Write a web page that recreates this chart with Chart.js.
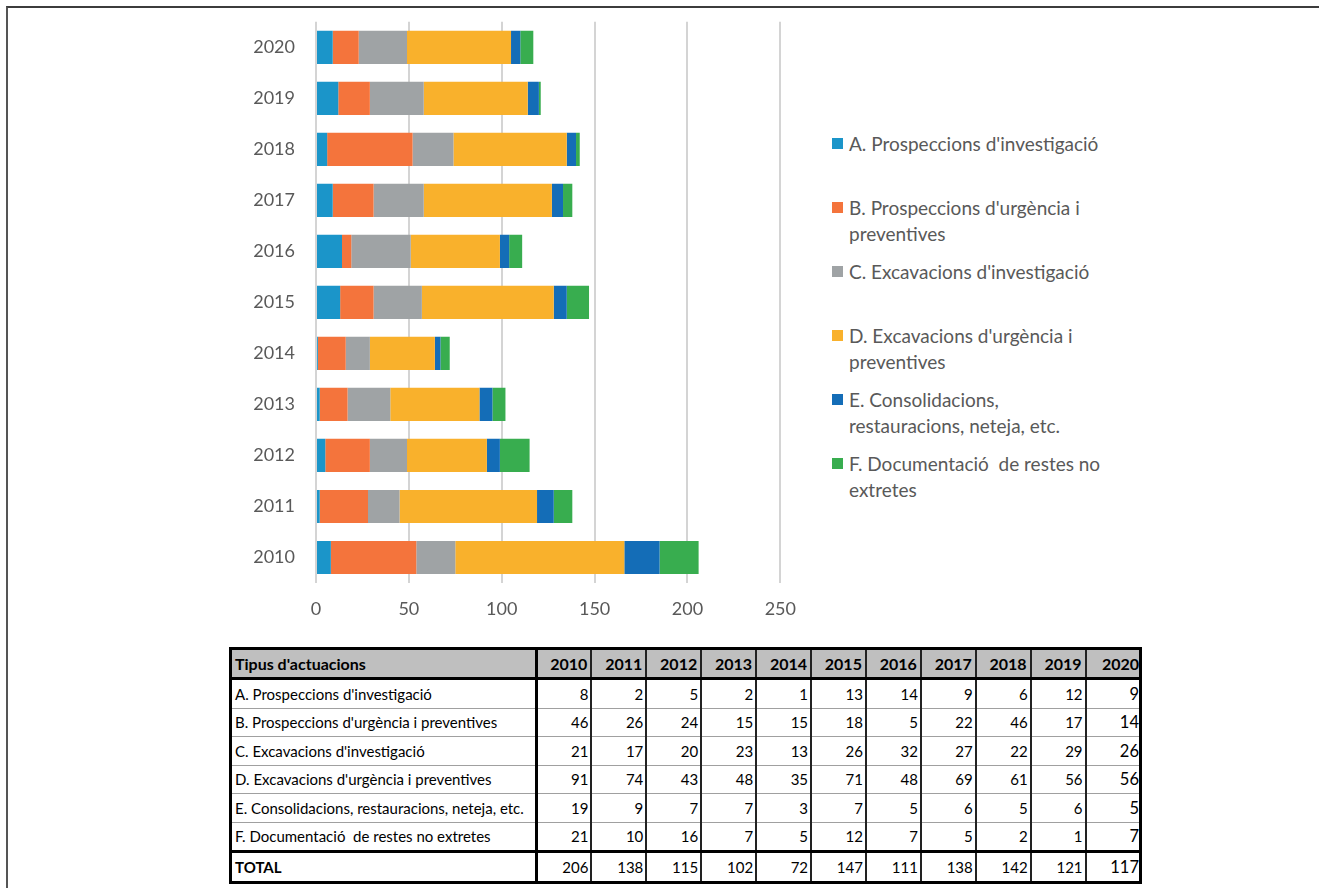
<!DOCTYPE html>
<html>
<head>
<meta charset="utf-8">
<script src="https://cdn.jsdelivr.net/npm/chart.js@4.4.1/dist/chart.umd.min.js"></script>
<style>
  body{margin:0;background:#fff;width:1319px;height:888px;overflow:hidden;position:relative;font-family:Lato,"Open Sans",sans-serif;}
  #frame{position:absolute;left:6px;top:6px;width:1320px;height:900px;border-top:2px solid #3c3c3c;border-left:2px solid #555;}
  #chartBox{position:absolute;left:0;top:-10px;width:811px;height:650px;}
  #legend{position:absolute;left:0;top:0;width:0;height:0;}
  .li{position:absolute;left:832px;font-size:19px;color:#595959;line-height:25.5px;}
  .sw{position:absolute;left:0;top:7px;width:11px;height:11px;}
  .tx{position:absolute;left:17px;top:0;white-space:nowrap;}
  table{position:absolute;left:229px;top:647px;width:913px;border-collapse:collapse;table-layout:fixed;border:3px solid #000;font-size:15px;color:#000;}
  th{background:#bfbfbf;font-weight:bold;font-size:16px;height:27px;border-bottom:3px solid #000;border-left:2px solid #222;border-right:2px solid #222;padding:0 3px;text-align:right;}
  th.lab{text-align:left;border-right:3px solid #000;}
  td{height:27.5px;border-top:1px solid #a0a0a0;border-bottom:1px solid #a0a0a0;border-left:2px solid #222;border-right:2px solid #222;text-align:right;padding:0 2px;white-space:nowrap;overflow:visible;}
  td.lab{text-align:left;border-right:3px solid #000;padding-left:3px;}
  tr.total td{border-top:3px solid #000;font-weight:normal;}
  tr.total td.lab{font-weight:bold;}
  td.last{font-size:16.5px;padding-right:0;}
  th.last{padding-right:0;}
</style>
</head>
<body>
<div id="frame"></div>
<div id="chartBox"><canvas id="c" width="811" height="650"></canvas></div>
<div id="legend"></div>
<table id="tbl"></table>
<script>
// ---- data ----
const years = ['2010','2011','2012','2013','2014','2015','2016','2017','2018','2019','2020'];
const seriesNames = [
  "A. Prospeccions d'investigació",
  "B. Prospeccions d'urgència i preventives",
  "C. Excavacions d'investigació",
  "D. Excavacions d'urgència i preventives",
  "E. Consolidacions, restauracions, neteja, etc.",
  "F. Documentació  de restes no extretes"
];
const legendLines = [
  ["A. Prospeccions d'investigació"],
  ["B. Prospeccions d'urgència i", "preventives"],
  ["C. Excavacions d'investigació"],
  ["D. Excavacions d'urgència i", "preventives"],
  ["E. Consolidacions,", "restauracions, neteja, etc."],
  ["F. Documentació  de restes no", "extretes"]
];
const seriesA = [8, 2, 5, 2, 1, 13, 14, 9, 6, 12, 9];
const seriesB = [46, 26, 24, 15, 15, 18, 5, 22, 46, 17, 14];
const seriesC = [21, 17, 20, 23, 13, 26, 32, 27, 22, 29, 26];
const seriesD = [91, 74, 43, 48, 35, 71, 48, 69, 61, 56, 56];
const seriesE = [19, 9, 7, 7, 3, 7, 5, 6, 5, 6, 5];
const seriesF = [21, 10, 16, 7, 5, 12, 7, 5, 2, 1, 7];
const totals = [206, 138, 115, 102, 72, 147, 111, 138, 142, 121, 117];
const xTicks = [0, 50, 100, 150, 200, 250];
const tableHeader = "Tipus d'actuacions";
const totalLabel = "TOTAL";
const colors = ['#1b95c9', '#f4743c', '#9fa3a5', '#f9b12c', '#146db7', '#38ad4f'];

const allSeries = [seriesA, seriesB, seriesC, seriesD, seriesE, seriesF];

// ---- chart ----
const FONT = 'Lato, "Open Sans", sans-serif';
new Chart(document.getElementById('c'), {
  type: 'bar',
  data: {
    labels: years,
    datasets: allSeries.map((d, i) => ({
      label: seriesNames[i],
      data: d,
      backgroundColor: colors[i],
      borderWidth: 0,
      categoryPercentage: 1,
      barPercentage: 0.65
    }))
  },
  options: {
    indexAxis: 'y',
    responsive: false,
    animation: false,
    devicePixelRatio: 1,
    layout: { padding: { top: 13, right: 10, left: 0, bottom: 0 } },
    plugins: { legend: { display: false }, tooltip: { enabled: false } },
    scales: {
      x: {
        stacked: true,
        min: 0, max: 250,
        afterBuildTicks: s => { s.ticks = xTicks.map(v => ({ value: v })); },
        afterFit: s => { s.height = 57; },
        grid: { color: '#d4d4d4', lineWidth: 2, drawTicks: false },
        border: { display: false },
        ticks: { padding: 15, color: '#595959', font: { family: FONT, size: 18 } }
      },
      y: {
        stacked: true,
        reverse: true,
        afterFit: s => { s.width = 316; },
        grid: { display: false, drawTicks: false },
        border: { display: false },
        ticks: { padding: 21, color: '#595959', font: { family: FONT, size: 18 } }
      }
    }
  }
});

// ---- legend ----
const lg = document.getElementById('legend');
legendLines.forEach((lines, i) => {
  const el = document.createElement('div');
  el.className = 'li';
  el.style.top = (144 + i * 64 - 12.75) + 'px';
  const sw = document.createElement('div');
  sw.className = 'sw';
  sw.style.background = colors[i];
  el.appendChild(sw);
  const tx = document.createElement('div');
  tx.className = 'tx';
  tx.innerHTML = lines.map(t => t.replace(/&/g,'&amp;').replace(/</g,'&lt;').replace(/  /g,' &nbsp;')).join('<br>');
  el.appendChild(tx);
  lg.appendChild(el);
});

// ---- table ----
const tbl = document.getElementById('tbl');
let html = '<colgroup><col style="width:306px">' + years.map(() => '<col>').join('') + '</colgroup>';
html += '<tr><th class="lab">' + tableHeader + '</th>' + years.map((y, j) => '<th' + (j === years.length - 1 ? ' class="last"' : '') + '>' + y + '</th>').join('') + '</tr>';
allSeries.forEach((d, i) => {
  html += '<tr><td class="lab">' + seriesNames[i].replace(/  /g, ' &nbsp;') + '</td>' + d.map((v, j) => '<td' + (j === d.length - 1 ? ' class="last"' : '') + '>' + v + '</td>').join('') + '</tr>';
});
html += '<tr class="total"><td class="lab">' + totalLabel + '</td>' + totals.map((v, j) => '<td' + (j === totals.length - 1 ? ' class="last"' : '') + '>' + v + '</td>').join('') + '</tr>';
tbl.innerHTML = html;
</script>
</body>
</html>
